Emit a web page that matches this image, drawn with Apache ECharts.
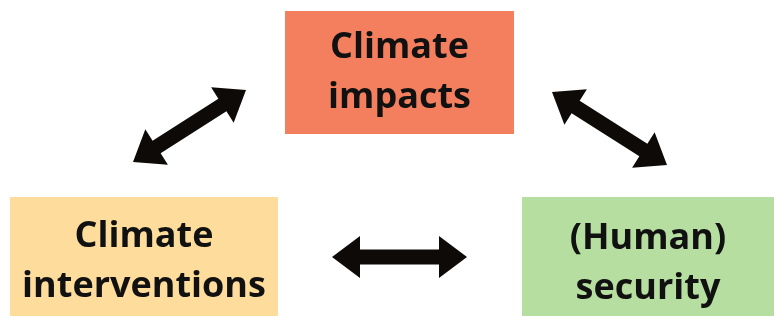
<!DOCTYPE html>
<html><head><meta charset="utf-8">
<script src="https://cdn.jsdelivr.net/npm/echarts@6/dist/echarts.min.js"></script>
<style>html,body{margin:0;padding:0;background:#fff}#c{width:774px;height:316px}</style>
</head><body><div id="c"></div>
<script>
// Diagram nodes (in diagram coordinate units)
const nodeNames = ['Climate\nimpacts', 'Climate\ninterventions', '(Human)\nsecurity'];
const nodeX0 = [285, 10, 522];
const nodeX1 = [514, 278, 774];
const nodeY0 = [11, 197, 197];
const nodeY1 = [134, 330, 330];
const nodeTextY = [73, 262, 264];
const nodeColors = ['#F47F5E', '#FDDC9C', '#B6DEA0'];
// Double-headed arrows (tips)
const arrowX0 = [133, 552, 332];
const arrowY0 = [162, 92, 257];
const arrowX1 = [246, 667, 467];
const arrowY1 = [90, 165, 257];

const boxData = nodeNames.map((n, i) => [nodeX0[i], nodeY0[i], nodeX1[i], nodeY1[i], nodeTextY[i], i]);
const arrowData = arrowX0.map((x, i) => [x, arrowY0[i], arrowX1[i], arrowY1[i]]);

const chart = echarts.init(document.getElementById('c'), null, {renderer: 'canvas'});
chart.setOption({
  animation: false,
  backgroundColor: '#ffffff',
  grid: {left: 0, right: 0, top: 0, bottom: 0},
  xAxis: {type: 'value', min: 0, max: 774, show: false},
  yAxis: {type: 'value', min: 0, max: 316, inverse: true, show: false},
  series: [
    {
      type: 'custom',
      data: boxData,
      clip: true,
      renderItem: function (params, api) {
        const p0 = api.coord([api.value(0), api.value(1)]);
        const p1 = api.coord([api.value(2), api.value(3)]);
        const ty = api.coord([0, api.value(4)])[1];
        const idx = api.value(5);
        return {
          type: 'group',
          children: [
            {type: 'rect', shape: {x: p0[0], y: p0[1], width: p1[0] - p0[0], height: p1[1] - p0[1]},
             style: {fill: nodeColors[idx]}},
            {type: 'text', x: (p0[0] + p1[0]) / 2, y: ty,
             style: {text: nodeNames[idx], fill: '#111111', font: '700 36px "Open Sans"',
                     align: 'center', verticalAlign: 'middle', lineHeight: 50}}
          ]
        };
      }
    },
    {
      type: 'custom',
      data: arrowData,
      renderItem: function (params, api) {
        const a = api.coord([api.value(0), api.value(1)]);
        const b = api.coord([api.value(2), api.value(3)]);
        const dx = b[0] - a[0], dy = b[1] - a[1];
        const L = Math.sqrt(dx * dx + dy * dy);
        const ux = dx / L, uy = dy / L;
        const nx = -uy, ny = ux;
        const sw = 7.5, hw = 21, hl = 28;
        const P = (t, s) => [a[0] + ux * t + nx * s, a[1] + uy * t + ny * s];
        const pts = [
          P(0, 0), P(hl, hw), P(hl, sw), P(L - hl, sw), P(L - hl, hw), P(L, 0),
          P(L - hl, -hw), P(L - hl, -sw), P(hl, -sw), P(hl, -hw)
        ];
        return {type: 'polygon', shape: {points: pts}, style: {fill: '#0d0a08'}};
      }
    }
  ]
});
</script></body></html>
